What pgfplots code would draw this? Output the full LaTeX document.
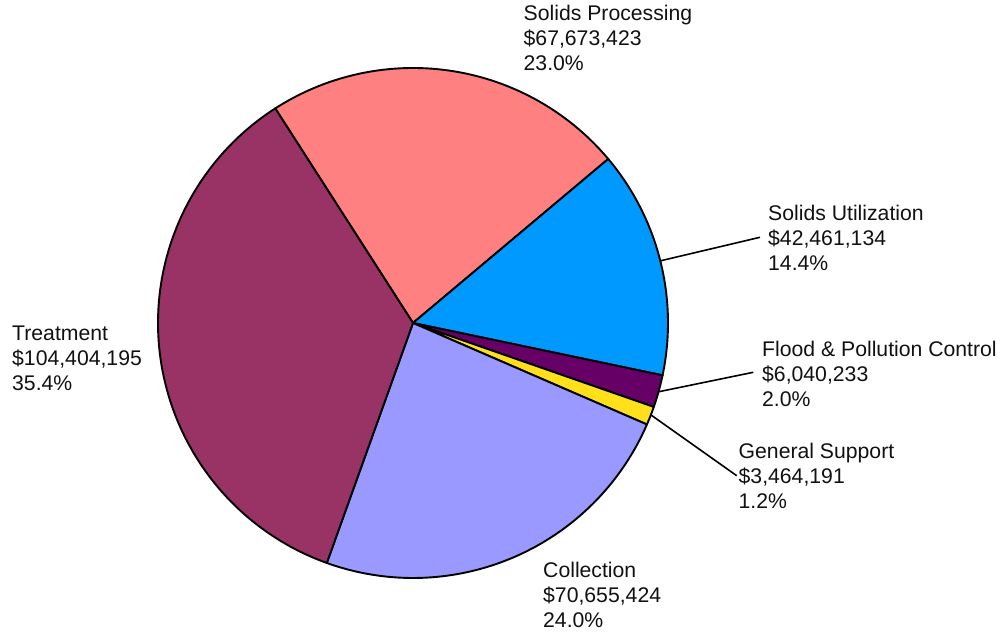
\documentclass[border=0pt]{standalone}
\usepackage{pgfplots}
\pgfplotsset{compat=1.18}
\usepackage{fontspec}
\setmainfont{Liberation Sans}
\definecolor{cSP}{HTML}{FF8080}
\definecolor{cSU}{HTML}{0099FF}
\definecolor{cFP}{HTML}{660066}
\definecolor{cGS}{HTML}{FFE01A}
\definecolor{cCO}{HTML}{9999FF}
\definecolor{cTR}{HTML}{993366}
\definecolor{txt}{HTML}{111111}
\newcommand{\lbl}{\fontsize{21.2}{25}\selectfont\color{txt}}
\begin{document}
\begin{tikzpicture}
% amounts in millions of dollars
\pgfmathsetmacro\vSP{67.673423}
\pgfmathsetmacro\vSU{42.461134}
\pgfmathsetmacro\vFP{6.040233}
\pgfmathsetmacro\vGS{3.464191}
\pgfmathsetmacro\vCO{70.655424}
\pgfmathsetmacro\vTR{104.404195}
\pgfmathsetmacro\tot{\vSP+\vSU+\vFP+\vGS+\vCO+\vTR}
\pgfmathsetmacro\aA{122.7}
\pgfmathsetmacro\aB{\aA-360*(\vSP/\tot)}
\pgfmathsetmacro\aC{\aB-360*(\vSU/\tot)}
\pgfmathsetmacro\aD{\aC-360*(\vFP/\tot)}
\pgfmathsetmacro\aE{\aD-360*(\vGS/\tot)}
\pgfmathsetmacro\aF{\aE-360*(\vCO/\tot)}
\pgfmathsetmacro\aG{\aF-360*(\vTR/\tot)}
\begin{axis}[
  width=1005pt, height=634pt, scale only axis,
  xmin=0, xmax=1005, ymin=0, ymax=634,
  hide axis, clip=false,
  every axis plot/.append style={draw=black, line width=1.9pt, line join=round, samples=120, variable=\t},
]
\addplot[fill=cSP, domain=\aB:\aA] ({413+255*cos(\t)},{311+255*sin(\t)}) -- (axis cs:413,311) -- cycle;
\addplot[fill=cSU, domain=\aC:\aB] ({413+255*cos(\t)},{311+255*sin(\t)}) -- (axis cs:413,311) -- cycle;
\addplot[fill=cFP, domain=\aD:\aC, samples=20] ({413+255*cos(\t)},{311+255*sin(\t)}) -- (axis cs:413,311) -- cycle;
\addplot[fill=cGS, domain=\aE:\aD, samples=20] ({413+255*cos(\t)},{311+255*sin(\t)}) -- (axis cs:413,311) -- cycle;
\addplot[fill=cCO, domain=\aF:\aE] ({413+255*cos(\t)},{311+255*sin(\t)}) -- (axis cs:413,311) -- cycle;
\addplot[fill=cTR, domain=\aG:\aF, samples=160] ({413+255*cos(\t)},{311+255*sin(\t)}) -- (axis cs:413,311) -- cycle;
% leader lines
\addplot[line width=1.6pt, mark=none] coordinates {(661,373.3) (760,396.7)};
\addplot[line width=1.6pt, mark=none] coordinates {(659,242.3) (753.3,261.7)};
\addplot[line width=1.6pt, mark=none] coordinates {(651,219) (736.7,158.3)};
% labels
\node[anchor=base west, inner sep=0pt, font=\lbl] at (axis cs:523.5,613) {Solids Processing};
\node[anchor=base west, inner sep=0pt, font=\lbl] at (axis cs:523.5,588) {\$67,673,423};
\node[anchor=base west, inner sep=0pt, font=\lbl] at (axis cs:523.5,563) {23.0\%};
\node[anchor=base west, inner sep=0pt, font=\lbl] at (axis cs:768,413) {Solids Utilization};
\node[anchor=base west, inner sep=0pt, font=\lbl] at (axis cs:768,388) {\$42,461,134};
\node[anchor=base west, inner sep=0pt, font=\lbl] at (axis cs:768,363) {14.4\%};
\node[anchor=base west, inner sep=0pt, font=\lbl] at (axis cs:762,277) {Flood \& Pollution Control};
\node[anchor=base west, inner sep=0pt, font=\lbl] at (axis cs:762,252) {\$6,040,233};
\node[anchor=base west, inner sep=0pt, font=\lbl] at (axis cs:762,227) {2.0\%};
\node[anchor=base west, inner sep=0pt, font=\lbl] at (axis cs:738.5,175) {General Support};
\node[anchor=base west, inner sep=0pt, font=\lbl] at (axis cs:738.5,150) {\$3,464,191};
\node[anchor=base west, inner sep=0pt, font=\lbl] at (axis cs:738.5,125) {1.2\%};
\node[anchor=base west, inner sep=0pt, font=\lbl] at (axis cs:543,56) {Collection};
\node[anchor=base west, inner sep=0pt, font=\lbl] at (axis cs:543,31) {\$70,655,424};
\node[anchor=base west, inner sep=0pt, font=\lbl] at (axis cs:543,6) {24.0\%};
\node[anchor=base west, inner sep=0pt, font=\lbl] at (axis cs:12,293) {Treatment};
\node[anchor=base west, inner sep=0pt, font=\lbl] at (axis cs:12,268) {\$104,404,195};
\node[anchor=base west, inner sep=0pt, font=\lbl] at (axis cs:12,243) {35.4\%};
\end{axis}
\pgfresetboundingbox
\useasboundingbox (current axis.south west) rectangle (current axis.north east);
\end{tikzpicture}
\end{document}
